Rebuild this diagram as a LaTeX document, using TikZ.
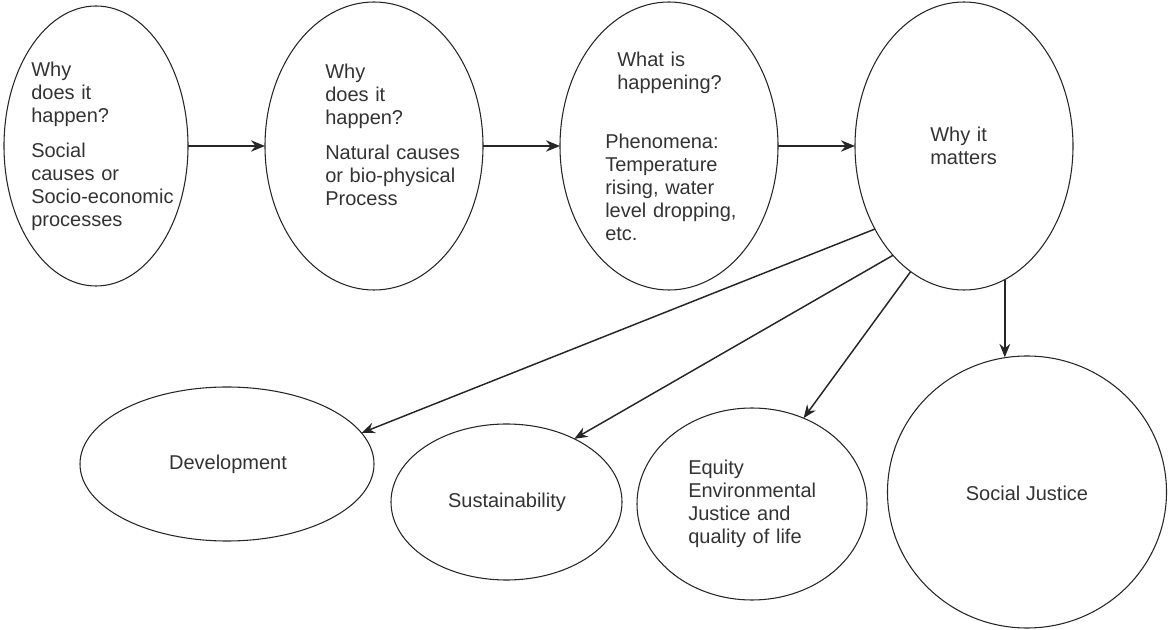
\documentclass[tikz,border=0pt]{standalone}
\usepackage{fontspec}
\setmainfont{Liberation Sans}
\usetikzlibrary{shapes.geometric,arrows.meta}

\begin{document}
\begin{tikzpicture}[x=0.75pt,y=-0.75pt,
  bubble/.style={ellipse, draw=black!85, line width=0.8pt, inner sep=0pt, outer sep=0pt},
  txt/.style={inner sep=0pt, text=black!80, text width=6cm, align=left,
    font=\fontsize{15pt}{17.25pt}\selectfont},
  ctxt/.style={inner sep=0pt, text=black!80, font=\fontsize{15pt}{17.25pt}\selectfont},
  flow/.style={draw=black!85, line width=1.5pt, -{Stealth[length=10.5pt,width=8.5pt]}},
  branch/.style={draw=black!85, line width=1.1pt, -{Stealth[length=10pt,width=8pt]}}]
\useasboundingbox (0,0) rectangle (1168,630);

% top row
\node[bubble, minimum width=138pt, minimum height=210pt] (e1) at (96,146) {};
\node[bubble, minimum width=163.5pt, minimum height=216pt] (e2) at (374,146) {};
\node[bubble, minimum width=163.5pt, minimum height=216pt] (e3) at (669,146) {};
\node[bubble, minimum width=163.5pt, minimum height=216pt] (e4) at (964,146) {};

% bottom row
\node[bubble, minimum width=220.5pt, minimum height=115.5pt] (dev) at (227,464) {};
\node[bubble, minimum width=173.25pt, minimum height=117pt] (sus) at (506.5,502) {};
\node[bubble, minimum width=172.5pt, minimum height=144pt] (equ) at (752,504) {};
\node[bubble, minimum width=209.25pt, minimum height=204pt] (sj) at (1027,492) {};

% texts
\node[txt, anchor=base west] (t1) at (31,77) {Why\\does it\\happen?\\[9pt]Social\\causes or\\Socio-economic\\processes};
\node[txt, anchor=base west] (t2) at (325,79) {Why\\does it\\happen?\\[8.5pt]Natural causes\\or bio-physical\\Process};
\node[txt, anchor=base west] (t3a) at (617,67) {What is\\happening?};
\node[txt, anchor=base west] (t3b) at (605,149) {Phenomena:\\Temperature\\rising, water\\level dropping,\\etc.};
\node[txt, anchor=base west] (t4) at (930,142) {Why it\\matters};
\node[ctxt, anchor=base] (tdev) at (228,470) {Development};
\node[ctxt, anchor=base] (tsus) at (507,508) {Sustainability};
\node[txt, anchor=base west] (tequ) at (688,475) {Equity\\Environmental\\Justice and\\quality of life};
\node[ctxt, anchor=base] (tsj) at (1027,501) {Social Justice};

% connectors
\draw[flow] (e1.east) -- (e2.west);
\draw[flow] (e2.east) -- (e3.west);
\draw[flow] (e3.east) -- (e4.west);
\draw[branch] (e4.223.4) -- (dev.13.1);
\draw[branch] (e4.237.5) -- (sus.43.9);
\draw[branch] (e4.247.1) -- (equ.59.3);
\draw[branch] (e4.287.3) -- (e4.287.3 |- sj.98.9);
\end{tikzpicture}
\end{document}
